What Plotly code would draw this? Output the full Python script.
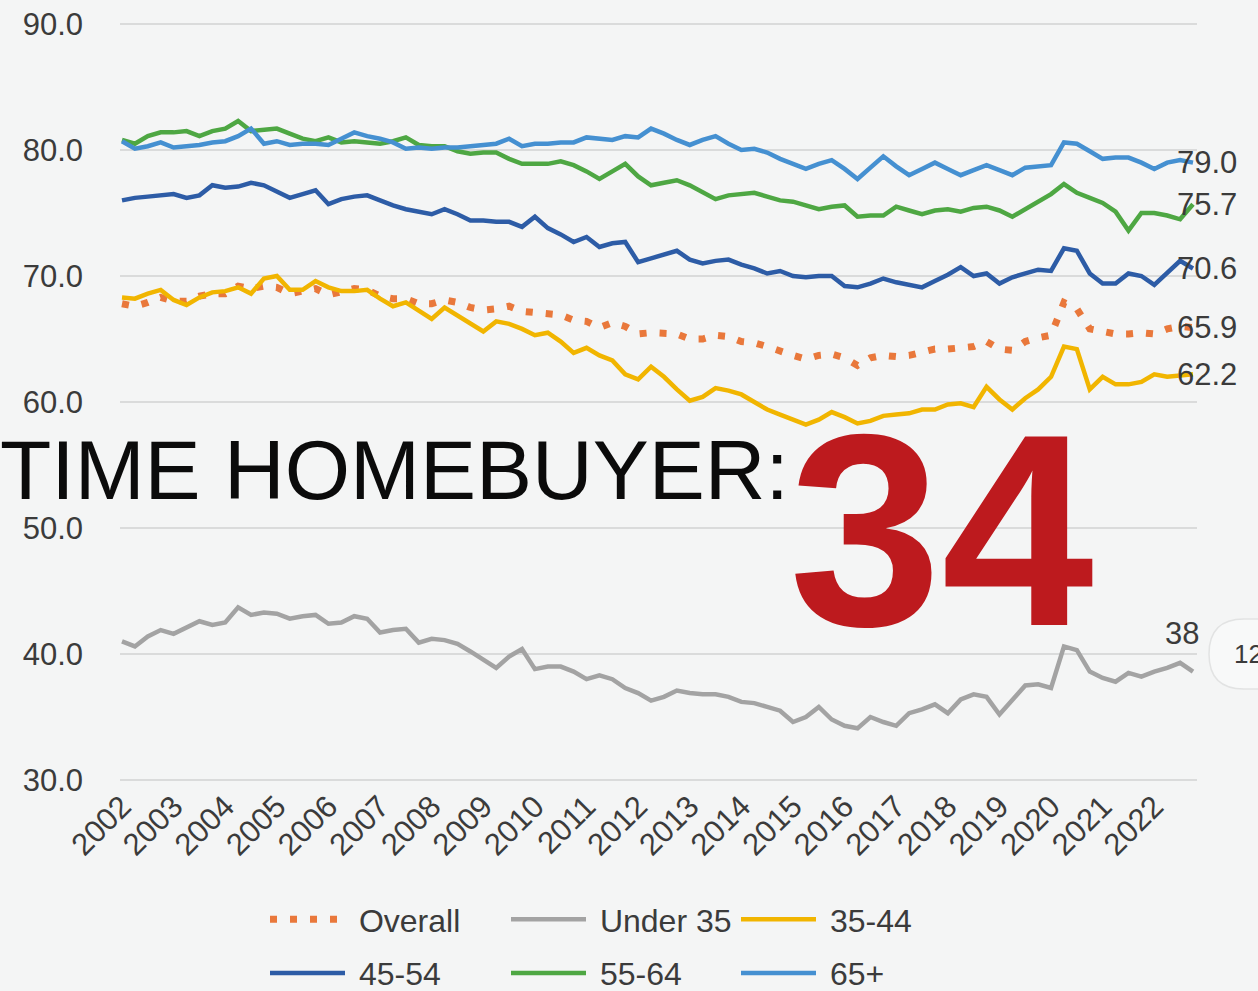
import plotly.graph_objects as go

# ---------------- data ----------------
years = list(range(2002, 2023))
quarters = [f"{y} Q{q}" for y in years for q in range(1, 5)]
year_ticks = [f"{y} Q1" for y in years]
year_labels = [str(y) for y in years]

overall = [67.8, 67.6, 67.9, 68.3, 68.0, 68.0, 68.4, 68.6, 68.6, 69.2, 69.0, 69.2,
           69.1, 68.6, 68.8, 69.0, 68.5, 68.7, 69.0, 68.9, 68.4, 68.2, 68.2, 67.8,
           67.8, 68.1, 67.9, 67.5, 67.3, 67.4, 67.6, 67.2, 67.1, 66.9, 66.9, 66.5,
           66.4, 65.9, 66.3, 66.0, 65.4, 65.5, 65.5, 65.4, 65.0, 65.0, 65.3, 65.2,
           64.8, 64.7, 64.4, 64.0, 63.7, 63.4, 63.7, 63.8, 63.5, 62.9, 63.5, 63.7,
           63.6, 63.7, 63.9, 64.2, 64.2, 64.3, 64.4, 64.8, 64.2, 64.1, 64.8, 65.1,
           65.3, 67.9, 67.4, 65.8, 65.6, 65.4, 65.4, 65.5, 65.4, 65.8, 66.0, 65.9]

under35 = [41.0, 40.6, 41.4, 41.9, 41.6, 42.1, 42.6, 42.3, 42.5, 43.7, 43.1, 43.3,
           43.2, 42.8, 43.0, 43.1, 42.4, 42.5, 43.0, 42.8, 41.7, 41.9, 42.0, 40.9,
           41.2, 41.1, 40.8, 40.2, 39.6, 38.9, 39.8, 40.4, 38.8, 39.0, 39.0, 38.6,
           38.0, 38.3, 38.0, 37.3, 36.9, 36.3, 36.6, 37.1, 36.9, 36.8, 36.8, 36.6,
           36.2, 36.1, 35.8, 35.5, 34.6, 35.0, 35.8, 34.8, 34.3, 34.1, 35.0, 34.6,
           34.3, 35.3, 35.6, 36.0, 35.3, 36.4, 36.8, 36.6, 35.2, 36.3, 37.5, 37.6,
           37.3, 40.6, 40.3, 38.6, 38.1, 37.8, 38.5, 38.2, 38.6, 38.9, 39.3, 38.6]

age35_44 = [68.3, 68.2, 68.6, 68.9, 68.1, 67.7, 68.3, 68.7, 68.8, 69.1, 68.6, 69.8,
            70.0, 68.9, 68.9, 69.6, 69.1, 68.8, 68.8, 68.9, 68.2, 67.6, 67.9, 67.2,
            66.6, 67.5, 66.9, 66.3, 65.6, 66.4, 66.2, 65.8, 65.3, 65.5, 64.8, 63.9,
            64.3, 63.7, 63.3, 62.2, 61.8, 62.8, 62.0, 61.0, 60.1, 60.4, 61.1, 60.9,
            60.6, 60.0, 59.4, 59.0, 58.6, 58.2, 58.6, 59.2, 58.8, 58.3, 58.5, 58.9,
            59.0, 59.1, 59.4, 59.4, 59.8, 59.9, 59.6, 61.2, 60.2, 59.4, 60.3, 61.0,
            62.0, 64.4, 64.2, 61.0, 62.0, 61.4, 61.4, 61.6, 62.2, 62.0, 62.1, 62.2]

age45_54 = [76.0, 76.2, 76.3, 76.4, 76.5, 76.2, 76.4, 77.2, 77.0, 77.1, 77.4, 77.2,
            76.7, 76.2, 76.5, 76.8, 75.7, 76.1, 76.3, 76.4, 76.0, 75.6, 75.3, 75.1,
            74.9, 75.3, 74.9, 74.4, 74.4, 74.3, 74.3, 73.9, 74.7, 73.8, 73.3, 72.7,
            73.1, 72.3, 72.6, 72.7, 71.1, 71.4, 71.7, 72.0, 71.3, 71.0, 71.2, 71.3,
            70.9, 70.6, 70.2, 70.4, 70.0, 69.9, 70.0, 70.0, 69.2, 69.1, 69.4, 69.8,
            69.5, 69.3, 69.1, 69.6, 70.1, 70.7, 70.0, 70.2, 69.4, 69.9, 70.2, 70.5,
            70.4, 72.2, 72.0, 70.2, 69.4, 69.4, 70.2, 70.0, 69.3, 70.3, 71.2, 70.6]

age55_64 = [80.8, 80.5, 81.1, 81.4, 81.4, 81.5, 81.1, 81.5, 81.7, 82.3, 81.5, 81.6,
            81.7, 81.3, 80.9, 80.7, 81.0, 80.6, 80.7, 80.6, 80.5, 80.7, 81.0, 80.4,
            80.3, 80.3, 79.9, 79.7, 79.8, 79.8, 79.3, 78.9, 78.9, 78.9, 79.1, 78.8,
            78.3, 77.7, 78.3, 78.9, 77.9, 77.2, 77.4, 77.6, 77.2, 76.6, 76.1, 76.4,
            76.5, 76.6, 76.3, 76.0, 75.9, 75.6, 75.3, 75.5, 75.6, 74.7, 74.8, 74.8,
            75.5, 75.2, 74.9, 75.2, 75.3, 75.1, 75.4, 75.5, 75.2, 74.7, 75.3, 75.8,
            76.5, 77.3, 76.6, 76.2, 75.8, 75.1, 73.6, 75.0, 75.0, 74.8, 74.5, 75.7]

age65_plus = [80.7, 80.1, 80.3, 80.6, 80.2, 80.3, 80.4, 80.6, 80.7, 81.1, 81.7, 80.5,
              80.7, 80.4, 80.5, 80.5, 80.4, 80.9, 81.4, 81.1, 80.9, 80.6, 80.1, 80.2,
              80.1, 80.2, 80.2, 80.3, 80.4, 80.5, 80.9, 80.3, 80.5, 80.5, 80.6, 80.6,
              81.0, 80.9, 80.8, 81.1, 81.0, 81.7, 81.3, 80.8, 80.4, 80.8, 81.1, 80.5,
              80.0, 80.1, 79.8, 79.3, 78.9, 78.5, 78.9, 79.2, 78.5, 77.7, 78.6, 79.5,
              78.7, 78.0, 78.5, 79.0, 78.5, 78.0, 78.4, 78.8, 78.4, 78.0, 78.6, 78.7,
              78.8, 80.6, 80.5, 79.9, 79.3, 79.4, 79.4, 79.0, 78.5, 79.0, 79.2, 79.0]

series_names = ["Overall", "Under 35", "35-44", "45-54", "55-64", "65+"]
series_values = [overall, under35, age35_44, age45_54, age55_64, age65_plus]
end_labels = ["65.9", "38", "62.2", "70.6", "75.7", "79.0"]

y_ticks = [30, 40, 50, 60, 70, 80, 90]

# ---------------- styling ----------------
W, H = 1258, 991
PL, PR, PT, PB = 120, 1197, 23, 781          # plot-area pixel box
FONT = "Liberation Sans, Arial, Helvetica, sans-serif"
TXT = "#3b3b3b"
BG = "#F4F5F5"

colors = ["#E9783B", "#A3A3A3", "#F1B500", "#2D5CA6", "#4EA743", "#4590D1"]
dashes = ["7px,13px", "solid", "solid", "solid", "solid", "solid"]
widths = [7, 4.5, 4.5, 4.5, 4.5, 4.5]
legend_of = ["legend", "legend2", "legend3", "legend", "legend2", "legend3"]
label_shift = [(-18, 0), (-30, 38), (-18, 0), (-18, 0), (-18, 0), (-18, 0)]
NBSP = "\u00a0"


def px_x(px):
    return (px - PL) / (PR - PL)


def px_y(py):
    return (PB - py) / (PB - PT)


fig = go.Figure()
for i, (name, vals) in enumerate(zip(series_names, series_values)):
    fig.add_trace(go.Scatter(
        x=quarters, y=vals, name=NBSP + name, mode="lines",
        line=dict(color=colors[i], width=widths[i], dash=dashes[i]),
        legend=legend_of[i], legendgroup=name, hoverinfo="skip",
    ))

annotations = []
for i, vals in enumerate(series_values):
    dx, dy = label_shift[i]
    annotations.append(dict(
        x=quarters[-1], y=vals[-1], xref="x", yref="y", text=end_labels[i],
        showarrow=False, xanchor="left", yanchor="middle", xshift=dx, yshift=dy,
        font=dict(family=FONT, size=31, color=TXT),
    ))

# overlay caption texts
annotations.append(dict(
    x=px_x(-2), y=px_y(470), xref="paper", yref="paper", text="TIME HOMEBUYER:",
    showarrow=False, xanchor="left", yanchor="middle",
    font=dict(family=FONT, size=84, color="#0b0b0b"),
))
annotations.append(dict(
    x=px_x(942), y=px_y(530), xref="paper", yref="paper", text="<b>34</b>",
    showarrow=False, xanchor="center", yanchor="middle",
    font=dict(family=FONT, size=274, color="#BD1A1E"),
))
annotations.append(dict(
    x=px_x(1232), y=px_y(654), xref="paper", yref="paper", text="12",
    showarrow=False, xanchor="left", yanchor="middle",
    font=dict(family=FONT, size=26, color=TXT),
))

# pill-shaped badge at right edge
bx0, by0, by1, r = 1209, 619, 689, 35
pts = lambda a, b: f"{px_x(a):.5f},{px_y(b):.5f}"
pill = (f"M{pts(bx0 + r, by0)} L{pts(1300, by0)} L{pts(1300, by1)} L{pts(bx0 + r, by1)} "
        f"Q{pts(bx0, by1)} {pts(bx0, (by0 + by1) / 2)} Q{pts(bx0, by0)} {pts(bx0 + r, by0)} Z")

legend_common = dict(
    orientation="v", yanchor="top", xanchor="left", bgcolor="rgba(0,0,0,0)",
    font=dict(family=FONT, size=32, color=TXT), itemwidth=75,
    traceorder="grouped", tracegroupgap=9, borderwidth=0,
    xref="paper", yref="paper",
)

fig.update_layout(
    width=W, height=H,
    margin=dict(l=PL, r=W - PR, t=PT, b=H - PB, autoexpand=False),
    paper_bgcolor=BG, plot_bgcolor=BG,
    showlegend=True,
    legend=dict(x=px_x(265), y=px_y(892), **legend_common),
    legend2=dict(x=px_x(506), y=px_y(892), **legend_common),
    legend3=dict(x=px_x(736), y=px_y(892), **legend_common),
    xaxis=dict(
        type="category", categoryorder="array", categoryarray=quarters,
        range=[-0.155, 83.31], tickmode="array", tickvals=year_ticks, ticktext=year_labels,
        tickangle=-45, showgrid=False, zeroline=False, showline=False, ticks="",
        tickfont=dict(family=FONT, size=31, color=TXT),
    ),
    yaxis=dict(
        range=[29.92, 90.08], tickmode="array", tickvals=y_ticks, tickformat=".1f",
        showgrid=True, gridcolor="#DADBDB", gridwidth=2, zeroline=False, showline=False,
        ticks="", ticklabelstandoff=36,
        tickfont=dict(family=FONT, size=31, color=TXT),
    ),
    annotations=annotations,
    shapes=[dict(type="path", path=pill, xref="paper", yref="paper",
                 fillcolor="#F8F9F9", line=dict(color="#E2E3E3", width=1.5), layer="above")],
    hovermode=False,
)

fig.write_html("out.html", config={"displayModeBar": False},
               post_script="document.body.style.margin='0px';")
